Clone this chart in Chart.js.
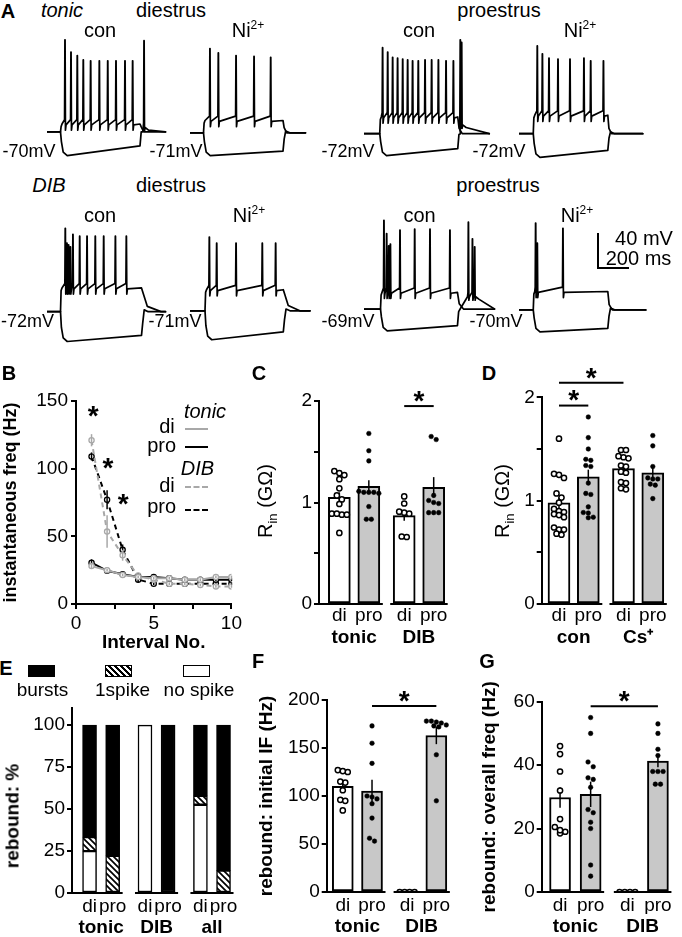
<!DOCTYPE html>
<html>
<head>
<meta charset="utf-8">
<script src="https://cdn.jsdelivr.net/npm/chart.js@4.4.1/dist/chart.umd.min.js"></script>
<style>
  body { margin: 0; width: 682px; height: 937px; position: relative; background: #fff; overflow: hidden;
         font-family: 'Liberation Sans', Arial, Helvetica, sans-serif; color: #000; }
  canvas { position: absolute; }
  .lbl { position: absolute; transform: translate(-50%, -50%); white-space: nowrap; line-height: 1; font-size: 19px; z-index: 2; }
  .rot { transform: translate(-50%, -50%) rotate(-90deg); }
  .b { font-weight: bold; }
  .i { font-style: italic; }
  sup { font-size: 12px; vertical-align: 8px; line-height: 0; }
  sub { font-size: 13px; vertical-align: -5px; line-height: 0; }
  .blk { position: absolute; z-index: 2; }
</style>
</head>
<body>
<script>
// ---------- A: example traces (time in ms, voltage in mV) ----------
const traceBaseline = [-70, -71, -72, -72, -72, -71, -69, -70];
const traceStepOn   = [90, 90, 105, 95, 90, 100, 110, 95];
const traceStepOff  = [620, 620, 625, 592, 630, 622, 623, 592];
const traceEnd      = [790, 770, 835, 825, 790, 800, 870, 845];
const tracePlateau  = [-61, -57, -53, -51, -45, -47, -50, -49];
const traceHyperMin = [-97, -97, -97, -99, -106, -104, -94, -95];
const traceHyperEnd = [-86, -92, -89, -91, -99, -95, -88, -91];
const depolDecay    = [25, 25, 30, 25, 130, 110, 40, 30];
const spikeTimes = [
  [120, 160, 202, 242, 291, 349, 405, 460, 520, 571],
  [133, 189, 307, 427, 538],
  [124, 158, 191, 224, 258, 291, 324, 362, 407, 451, 496, 547, 596],
  [122, 156, 200, 260, 340, 433, 478, 563],
  [122, 133, 144, 156, 173, 218, 267, 322, 378, 456, 529],
  [129, 178, 307, 482, 571],
  [133, 151, 165, 176, 240, 338, 440, 573],
  [111, 122, 293]
];
const spikePeaks = [
  [35, 21, 17, 12, 11, 11, 11, 11, 11, 11],
  [25, 20, 17, 16, 15],
  [26, 21, 15, 14, 13, 12, 11, 11, 12, 12, 12, 11, 11],
  [28, 19, 14, 13, 13, 14, 11, 11],
  [23, 6, 4, 2, 16, 14, 14, 14, 14, 14, 14],
  [13, 6, 6, 6, 6],
  [32, 17, 3, 5, 21, 22, 22, 21],
  [29, 6, 23]
];
const reboundTimes = [[647], [], [642, 651], [], [], [], [696, 723, 738], []];
const reboundPeaks = [[34], [], [35, 32], [], [], [], [30, 11, 2], []];
const reboundHump  = [-65, null, -62, null, null, null, -55, null];

// ---------- B: instantaneous frequency ----------
const bInterval   = [1, 2, 3, 4, 5, 6, 7, 8, 9, 10];
const bTonicDi    = [28, 25, 21.5, 20, 19, 19, 18, 18, 20, 20];
const bTonicPro   = [30.5, 24.5, 22, 20, 20, 19, 18, 18, 18, 18];
const bDibDi      = [121, 53.5, 36, 21, 18, 15, 15, 14, 13, 13];
const bDibPro     = [109, 77, 40, 18, 15, 15, 15, 15, 15, 15];
const bSemTonicDi  = [1.5, 1, 1, 1, 1, 1, 1, 1, 1, 1];
const bSemTonicPro = [2.5, 1.5, 1, 1, 1, 1, 1, 1, 1, 1];
const bSemDibDi    = [4.5, 12, 4, 2, 1, 1, 1, 1, 1, 1];
const bSemDibPro   = [3, 7, 4, 2, 1, 1, 1, 1, 1, 1];

// ---------- C: input resistance (GOhm), tonic / DIB ----------
const cMeans   = [1.05, 1.16, 0.87, 1.15];
const cSem     = [0.05, 0.06, 0.05, 0.10];
const cTonicDi  = [1.31, 1.29, 1.27, 1.23, 1.14, 1.07, 1.03, 0.985, 0.89, 0.88, 0.88, 0.89, 0.70];
const cTonicPro = [1.68, 1.51, 1.41, 1.11, 1.10, 1.10, 1.09, 1.10, 0.96, 0.835, 0.835];
const cDibDi    = [1.06, 0.99, 0.90, 0.89, 0.91, 0.66, 0.665];
const cDibPro   = [1.62, 1.65, 1.07, 1.00, 0.99, 1.02, 0.90, 0.90, 0.90];

// ---------- D: input resistance, con / Cs+ ----------
const dMeans   = [0.98, 1.23, 1.31, 1.27];
const dSem     = [0.05, 0.07, 0.03, 0.05];
const dConDi   = [1.60, 1.26, 1.25, 1.22, 1.07, 1.03, 0.98, 0.92, 0.90, 0.89, 0.87, 0.86, 0.84, 0.74, 0.72, 0.72, 0.68, 0.67];
const dConPro  = [1.81, 1.61, 1.50, 1.40, 1.39, 1.34, 1.33, 1.17, 1.07, 1.06, 0.94, 0.885, 0.88, 0.835, 0.84];
const dCsDi    = [1.49, 1.49, 1.42, 1.41, 1.43, 1.34, 1.33, 1.28, 1.27, 1.18, 1.17, 1.12, 1.11];
const dCsPro   = [1.63, 1.53, 1.33, 1.21, 1.21, 1.22, 1.16, 1.15, 1.02];

// ---------- E: rebound type (%) ----------
const eNoSpike  = [25, 0, 100, 0, 52.6, 0];
const eOneSpike = [8.3, 22.2, 0, 0, 5.3, 13.3];
const eBursts   = [66.7, 77.8, 0, 100, 42.1, 86.7];

// ---------- F: rebound initial IF (Hz) ----------
const fMeans    = [110, 105, 0, 163];
const fSem      = [5, 12, 0, 9];
const fTonicDi  = [125, 127, 126, 114, 115, 106, 96, 95, 85];
const fTonicPro = [173, 155, 134, 99, 100, 97, 92, 77, 56, 53];
const fDibDi    = [0, 0, 0, 0];
const fDibPro   = [177, 178, 176, 178, 173, 174, 172, 143, 95];

// ---------- G: rebound overall freq (Hz) ----------
const gMeans    = [29.8, 30.8, 0, 41.3];
const gSem      = [3.2, 4, 0, 2];
const gTonicDi  = [46, 43.5, 38, 32, 23, 20.5, 19, 18.5, 19.5];
const gTonicPro = [55, 50, 41, 39.5, 36, 35.5, 33, 26, 25, 22, 20, 8.5, 5];
const gDibDi    = [0, 0, 0, 0];
const gDibPro   = [53, 50, 45, 43, 38, 38, 38, 34, 34];

const subLabels = ['di', 'pro', 'di', 'pro'];

// ===================================================================
const FONT = "'Liberation Sans', Arial, Helvetica, sans-serif";
const grey = '#a8a8a8';
const barGrey = '#c8c8c8';
Chart.defaults.font.family = FONT;
Chart.defaults.font.size = 19;
Chart.defaults.color = '#000';
Chart.defaults.animation = false;
Chart.defaults.events = [];
Chart.defaults.plugins.legend.display = false;
Chart.defaults.plugins.tooltip.enabled = false;

function mkCanvas(left, top, w, h) {
  const c = document.createElement('canvas');
  c.width = w; c.height = h;
  c.style.left = left + 'px'; c.style.top = top + 'px';
  c.style.width = w + 'px'; c.style.height = h + 'px';
  document.body.appendChild(c);
  return c;
}

function put(html, cx, cy, size, cls) {
  const d = document.createElement('div');
  d.className = 'lbl ' + (cls || '');
  d.innerHTML = html;
  d.style.left = cx + 'px'; d.style.top = cy + 'px';
  d.style.fontSize = size + 'px';
  document.body.appendChild(d);
}

function box(left, top, w, h, css) {
  const d = document.createElement('div');
  d.className = 'blk';
  d.style.left = left + 'px'; d.style.top = top + 'px';
  d.style.width = w + 'px'; d.style.height = h + 'px';
  Object.assign(d.style, css);
  document.body.appendChild(d);
}

// error bars, group baselines and significance marks
const extras = {
  id: 'extras',
  afterDatasetDraw(chart, args) {
    const o = chart.canvas._extras || {};
    (o.err || []).forEach(e => {
      if (e.ds !== args.index) return;
      const ctx = chart.ctx, y = chart.scales.y;
      const ds = chart.data.datasets[e.ds];
      ctx.save();
      ctx.strokeStyle = e.color || '#000';
      ctx.lineWidth = 1.5;
      args.meta.data.forEach((el, i) => {
        const s = e.sem[i];
        if (!s) return;
        const raw = ds.data[i];
        const v = typeof raw === 'object' ? raw.y : raw;
        ctx.beginPath();
        ctx.moveTo(el.x, y.getPixelForValue(v - s));
        ctx.lineTo(el.x, y.getPixelForValue(v + s));
        ctx.stroke();
      });
      ctx.restore();
    });
  },
  afterDraw(chart) {
    const o = chart.canvas._extras || {};
    const ctx = chart.ctx, x = chart.scales.x, y = chart.scales.y, ca = chart.chartArea;
    ctx.save();
    ctx.strokeStyle = '#000';
    ctx.fillStyle = '#000';
    if (o.groups) {
      const y0 = y.getPixelForValue(0);
      ctx.lineWidth = 2;
      o.groups.forEach((g, k) => {
        const x0 = k === 0 ? ca.left : x.getPixelForValue(g[0]) - o.barW / 2 - 3;
        const x1 = x.getPixelForValue(g[1]) + o.barW / 2 + 3;
        ctx.beginPath(); ctx.moveTo(x0, y0); ctx.lineTo(x1, y0); ctx.stroke();
      });
    }
    (o.sig || []).forEach(s => {
      const yy = y.getPixelForValue(s.y);
      const xa = x.getPixelForValue(s.a), xb = x.getPixelForValue(s.b);
      ctx.lineWidth = 2;
      ctx.beginPath(); ctx.moveTo(xa, yy); ctx.lineTo(xb, yy); ctx.stroke();
      ctx.font = 'bold 28px ' + FONT;
      ctx.textAlign = 'center';
      ctx.textBaseline = 'middle';
      ctx.fillText('*', (xa + xb) / 2, yy - 4);
    });
    ctx.restore();
  }
};

// ---------- A ----------
// each spike gets a tiny flat top so the stroke never has to turn a razor-sharp corner
function addSpike(pts, t, peak, pre, post, rest) {
  pts.push({x: t - 3, y: pre}, {x: t - 0.6, y: peak}, {x: t + 0.6, y: peak}, {x: t + 3, y: post}, {x: t + 7, y: rest});
}
function depolTrace(i) {
  const b = traceBaseline[i], on = traceStepOn[i], off = traceStepOff[i], p = tracePlateau[i];
  const pts = [{x: 0, y: b}, {x: on, y: b}, {x: on + 4, y: p - 3}, {x: on + 10, y: p}];
  spikeTimes[i].forEach((t, k) => addSpike(pts, t, spikePeaks[i][k], p + 5, p - 7, p - 1));
  pts.push({x: off, y: p}, {x: off + depolDecay[i] * 0.3, y: b + 6}, {x: off + depolDecay[i], y: b}, {x: traceEnd[i], y: b});
  return pts;
}
function hyperTrace(i) {
  const b = traceBaseline[i], on = traceStepOn[i], off = traceStepOff[i];
  const mn = traceHyperMin[i], me = traceHyperEnd[i];
  const pts = [{x: 0, y: b}, {x: on, y: b}, {x: on + 6, y: mn + 16}, {x: on + 18, y: mn + 4},
               {x: on + 45, y: mn}, {x: off, y: me}];
  const reb = reboundTimes[i];
  if (reb.length) {
    const h = reboundHump[i];
    pts.push({x: off + 8, y: me + 16}, {x: off + 18, y: b}, {x: reb[0] - 6, y: h});
    reb.forEach((t, k) => addSpike(pts, t, reboundPeaks[i][k], h + 5, h - 4, h));
    pts.push({x: reb[reb.length - 1] + 30, y: h - 3}, {x: traceEnd[i], y: b});
  } else {
    pts.push({x: off + 8, y: me + 14}, {x: off + 18, y: b + 2}, {x: off + 45, y: b}, {x: traceEnd[i], y: b});
  }
  return pts;
}
const traceLeft = [47, 190, 364, 519, 47, 190, 364, 519];
const traceTop  = [31, 31, 31, 31, 209, 209, 209, 209];
traceBaseline.forEach((b, i) => {
  const c = mkCanvas(traceLeft[i], traceTop[i], 135, 136);
  const line = {borderColor: '#000', borderWidth: 1.7, borderDash: [1000, 0], pointRadius: 0, tension: 0,
                borderJoinStyle: 'round', borderCapStyle: 'round'};
  new Chart(c, {
    type: 'line',
    data: {datasets: [Object.assign({data: hyperTrace(i)}, line), Object.assign({data: depolTrace(i)}, line)]},
    options: {
      responsive: false, devicePixelRatio: 1, layout: {padding: 0},
      scales: {x: {type: 'linear', display: false, min: 0, max: 900},
               y: {display: false, min: -110, max: 45}}
    }
  });
});

// ---------- B ----------
function bSeries(vals, color, dash) {
  return {
    data: bInterval.map((x, i) => ({x: x, y: vals[i]})),
    borderColor: color, borderDash: dash, borderWidth: 2, tension: 0,
    pointRadius: 2.6, pointBackgroundColor: '#fff', pointBorderColor: color, pointBorderWidth: 1.3
  };
}
const axisLine = {display: true, color: '#000', width: 2};
const tickGrid = {display: true, drawOnChartArea: false, drawTicks: true, tickLength: 5, color: '#000', lineWidth: 2};

const cB = mkCanvas(0, 380, 245, 274);
cB._extras = {err: [
  {ds: 0, sem: bSemTonicDi, color: grey}, {ds: 1, sem: bSemTonicPro, color: '#000'},
  {ds: 2, sem: bSemDibDi, color: grey}, {ds: 3, sem: bSemDibPro, color: '#000'}
]};
new Chart(cB, {
  type: 'line',
  data: {datasets: [
    bSeries(bTonicDi, grey, []), bSeries(bTonicPro, '#000', []),
    bSeries(bDibDi, grey, [5, 4]), bSeries(bDibPro, '#000', [5, 4])
  ]},
  options: {
    responsive: false, devicePixelRatio: 1,
    layout: {padding: {top: 21, right: 12, left: 0, bottom: 0}},
    scales: {
      x: {type: 'linear', min: 0, max: 10, offset: false, border: axisLine, grid: tickGrid,
          afterBuildTicks: a => { a.ticks = [0, 2.5, 5, 7.5, 10].map(v => ({value: v})); },
          ticks: {padding: 3, autoSkip: false, maxRotation: 0, callback: v => Number.isInteger(v) ? v : ''},
          title: {display: true, text: 'Interval No.', font: {weight: 'bold', size: 19}, padding: 0},
          afterFit: a => { a.height = 50; }},
      y: {min: 0, max: 150, border: axisLine, grid: tickGrid,
          afterBuildTicks: a => { a.ticks = [0, 50, 100, 150].map(v => ({value: v})); },
          ticks: {padding: 3},
          title: {display: true, text: 'instantaneous freq (Hz)', font: {weight: 'bold', size: 18}, padding: 0},
          afterFit: a => { a.width = 76; }}
    }
  },
  plugins: [extras]
});

// ---------- bar panels ----------
function spread(vals, thr, step) {
  const idx = vals.map((v, i) => i).sort((a, b) => vals[b] - vals[a]);
  const off = new Array(vals.length).fill(0);
  let k = 0;
  while (k < idx.length) {
    let j = k;
    while (j + 1 < idx.length && vals[idx[k]] - vals[idx[j + 1]] < thr) j++;
    const n = j - k + 1;
    for (let m = 0; m < n; m++) off[idx[k + m]] = (m - (n - 1) / 2) * step;
    k = j + 1;
  }
  return off;
}

const slots = [1, 2, 3.2, 4.2];
const groupCenters = [1.5, 3.7];

function barPanel(p) {
  const c = mkCanvas(p.rect[0], p.rect[1], p.rect[2], p.rect[3]);
  c._extras = {groups: [[1, 2], [3.2, 4.2]], barW: p.barW, sig: p.sig, err: [{ds: 0, sem: p.sems}]};
  const datasets = [{
    type: 'bar', order: 2,
    data: slots.map((s, i) => ({x: s, y: p.means[i]})),
    backgroundColor: ['#fff', barGrey, '#fff', barGrey],
    borderColor: '#000', borderWidth: 2, borderSkipped: false, barThickness: p.barW
  }];
  p.dots.forEach((vals, g) => {
    const off = spread(vals, p.thr, 0.17);
    const open = g % 2 === 0;
    datasets.push({
      type: 'scatter', order: 1,
      data: vals.map((v, i) => ({x: slots[g] + off[i], y: v})),
      pointRadius: open ? 2.6 : 2.3,
      pointBackgroundColor: open ? '#fff' : '#000',
      pointBorderColor: '#000', pointBorderWidth: open ? 1.5 : 0.5
    });
  });
  new Chart(c, {
    type: 'bar',
    data: {datasets: datasets},
    options: {
      responsive: false, devicePixelRatio: 1,
      layout: {padding: {top: p.padTop, right: p.padRight, left: 0, bottom: 0}},
      scales: {
        x: {type: 'linear', min: p.xmin, max: p.xmax, offset: false, position: 'bottom',
            grid: {display: false, drawTicks: false}, border: {display: false},
            afterBuildTicks: a => { a.ticks = slots.map(v => ({value: v})); },
            ticks: {padding: p.subPad, autoSkip: false, maxRotation: 0, callback: (v, i) => subLabels[i]},
            afterFit: a => { a.height = p.xh; }},
        x2: {type: 'linear', min: p.xmin, max: p.xmax, offset: false, position: 'bottom',
             grid: {display: false, drawTicks: false}, border: {display: false},
             afterBuildTicks: a => { a.ticks = groupCenters.map(v => ({value: v})); },
             ticks: {padding: p.grpPad, autoSkip: false, maxRotation: 0, font: {weight: 'bold'},
                     callback: (v, i) => p.groups[i]},
             afterFit: a => { a.height = p.x2h; }},
        y: {min: p.ymin, max: p.ymax, border: axisLine, grid: tickGrid,
            afterBuildTicks: a => { a.ticks = p.yticks.map(v => ({value: v})); },
            ticks: {padding: 2, callback: p.ylab},
            title: p.title ? {display: true, text: p.title, font: {weight: 'bold', size: 19}, padding: 0} : {display: false},
            afterFit: a => { a.width = p.yw; }}
      }
    },
    plugins: [extras]
  });
}

const halfTicks = v => Number.isInteger(v) ? v : '';
const plain = v => v;

barPanel({rect: [280, 380, 176, 268], padTop: 21, padRight: 2, yw: 39, xh: 21, x2h: 23, subPad: 0, grpPad: 1,
  xmin: 0.31, xmax: 4.77, ymin: 0, ymax: 2, yticks: [0, 0.5, 1, 1.5, 2], ylab: halfTicks,
  means: cMeans, sems: cSem, dots: [cTonicDi, cTonicPro, cDibDi, cDibPro], thr: 0.05, barW: 22,
  groups: ['tonic', 'DIB'], sig: [{a: 3.2, b: 4.2, y: 1.95}]});

barPanel({rect: [505, 355, 170, 293], padTop: 42.3, padRight: 1.2, yw: 36.7, xh: 21, x2h: 23, subPad: 0, grpPad: 1,
  xmin: 0.41, xmax: 4.77, ymin: 0, ymax: 2, yticks: [0, 0.5, 1, 1.5, 2], ylab: halfTicks,
  means: dMeans, sems: dSem, dots: [dConDi, dConPro, dCsDi, dCsPro], thr: 0.05, barW: 22,
  groups: ['con', 'Cs\u207A'], sig: [{a: 1, b: 2, y: 1.92}, {a: 1, b: 3.2, y: 2.14}]});

barPanel({rect: [255, 640, 200, 297], padTop: 60, padRight: 3, yw: 71.7, xh: 22, x2h: 23, subPad: 2.5, grpPad: 1.8,
  xmin: 0.45, xmax: 4.65, ymin: 0, ymax: 200, yticks: [0, 50, 100, 150, 200], ylab: plain,
  means: fMeans, sems: fSem, dots: [fTonicDi, fTonicPro, fDibDi, fDibPro], thr: 5, barW: 21,
  groups: ['tonic', 'DIB'], sig: [{a: 2, b: 4.2, y: 193.8}], title: 'rebound: initial IF (Hz)'});

barPanel({rect: [478, 640, 204, 297], padTop: 61.7, padRight: 10, yw: 63.7, xh: 22, x2h: 23, subPad: 2.5, grpPad: 1.8,
  xmin: 0.4, xmax: 4.66, ymin: 0, ymax: 60, yticks: [0, 20, 40, 60], ylab: plain,
  means: gMeans, sems: gSem, dots: [gTonicDi, gTonicPro, gDibDi, gDibPro], thr: 1.6, barW: 21,
  groups: ['tonic', 'DIB'], sig: [{a: 2, b: 4.2, y: 58.6}], title: 'rebound: overall freq (Hz)'});

// ---------- E ----------
function hatch() {
  const c = document.createElement('canvas');
  c.width = 6; c.height = 6;
  const g = c.getContext('2d');
  g.fillStyle = '#fff'; g.fillRect(0, 0, 6, 6);
  g.strokeStyle = '#000'; g.lineWidth = 1.7;
  g.beginPath();
  g.moveTo(-1, -1); g.lineTo(7, 7);
  g.moveTo(-1, 5); g.lineTo(1, 7);
  g.moveTo(5, -1); g.lineTo(7, 1);
  g.stroke();
  return g.createPattern(c, 'repeat');
}
const eSlots = [1, 2, 3.4, 4.4, 5.8, 6.8];
const eSub = ['di', 'pro', 'di', 'pro', 'di', 'pro'];
const eGroups = ['tonic', 'DIB', 'all'];
const cE = mkCanvas(0, 695, 240, 242);
cE._extras = {groups: [[1, 2], [3.4, 4.4], [5.8, 6.8]], barW: 14};
function eSet(vals, fill) {
  return {data: eSlots.map((s, i) => ({x: s, y: vals[i]})), backgroundColor: fill,
          borderColor: '#000', borderWidth: 1.5, borderSkipped: false, barThickness: 14};
}
new Chart(cE, {
  type: 'bar',
  data: {datasets: [eSet(eNoSpike, '#fff'), eSet(eOneSpike, hatch()), eSet(eBursts, '#000')]},
  options: {
    responsive: false, devicePixelRatio: 1,
    layout: {padding: {top: 8, right: 4, left: 0, bottom: 0}},
    scales: {
      x: {type: 'linear', stacked: true, min: 0.24, max: 7.34, offset: false,
          grid: {display: false, drawTicks: false}, border: {display: false},
          afterBuildTicks: a => { a.ticks = eSlots.map(v => ({value: v})); },
          ticks: {padding: 2, autoSkip: false, maxRotation: 0, callback: (v, i) => eSub[i]},
          afterFit: a => { a.height = 22; }},
      x2: {type: 'linear', min: 0.24, max: 7.34, offset: false, position: 'bottom',
           grid: {display: false, drawTicks: false}, border: {display: false},
           afterBuildTicks: a => { a.ticks = [1.5, 3.9, 6.3].map(v => ({value: v})); },
           ticks: {padding: 1, autoSkip: false, maxRotation: 0, font: {weight: 'bold'}, callback: (v, i) => eGroups[i]},
           afterFit: a => { a.height = 22; }},
      y: {stacked: true, min: 0, max: 110, border: axisLine, grid: tickGrid,
          afterBuildTicks: a => { a.ticks = [0, 25, 50, 75, 100].map(v => ({value: v})); },
          ticks: {padding: 2},
          afterFit: a => { a.width = 72; }}
    }
  },
  plugins: [extras]
});

// ---------- text ----------
// A
put('A', 8, 11, 20, 'b');
put('tonic', 62, 10, 20, 'i');
put('diestrus', 171, 10, 20);
put('proestrus', 499, 10, 20);
put('con', 100, 30, 20); put('Ni<sup>2+</sup>', 248, 30, 20);
put('con', 419, 30, 20); put('Ni<sup>2+</sup>', 580, 30, 20);
put('-70mV', 29, 151, 18); put('-71mV', 176, 151, 18);
put('-72mV', 348, 151, 18); put('-72mV', 499, 151, 18);
put('DIB', 49, 185, 20, 'i');
put('diestrus', 171, 184.5, 20);
put('proestrus', 498, 185, 20);
put('con', 100, 214.5, 20); put('Ni<sup>2+</sup>', 249, 214.5, 20);
put('con', 419.5, 214.5, 20); put('Ni<sup>2+</sup>', 577, 214.5, 20);
put('-72mV', 27.5, 320.5, 18); put('-71mV', 175, 320.5, 18);
put('-69mV', 348, 320.5, 18); put('-70mV', 496, 320.5, 18);
put('40 mV', 644, 238, 20); put('200 ms', 638.5, 258, 20);
box(597, 233, 2, 36, {background: '#000'});
box(597, 267, 32, 2, {background: '#000'});

// B
put('B', 9, 373, 20, 'b');
put('*', 93.3, 416, 28, 'b'); put('*', 108, 468, 28, 'b'); put('*', 123.3, 504, 28, 'b');
put('tonic', 205, 411.4, 20, 'i');
put('di', 167, 426.4, 20); box(185, 428, 23, 0, {borderTop: '2px solid ' + grey});
put('pro', 161.7, 444.8, 20); box(185, 446, 23, 0, {borderTop: '2px solid #000'});
put('DIB', 197.5, 468, 20, 'i');
put('di', 167, 484.8, 20); box(185, 486, 23, 0, {borderTop: '2px dashed ' + grey});
put('pro', 161.7, 506.4, 20); box(185, 509, 23, 0, {borderTop: '2px dashed #000'});

// C, D
put('C', 259, 373, 20, 'b');
put('R<sub>in</sub> (G\u03A9)', 265, 501, 20, 'rot');
put('D', 489, 373, 20, 'b');
put('R<sub>in</sub> (G\u03A9)', 502, 501, 20, 'rot');

// E
put('E', 6, 668, 20, 'b');
box(28, 665, 27, 12, {background: '#000', border: '1.5px solid #000', boxSizing: 'border-box'});
box(105, 665, 27, 12, {background: 'repeating-linear-gradient(45deg, #000 0 1.7px, #fff 1.7px 4.2px)', border: '1.5px solid #000', boxSizing: 'border-box'});
box(183, 665, 27, 12, {background: '#fff', border: '1.5px solid #000', boxSizing: 'border-box'});
put('bursts', 42.5, 689.4, 19); put('1spike', 122.5, 689.4, 19); put('no spike', 199, 689.4, 19);
put('rebound: %', 12, 816, 19, 'b rot');

// F, G
put('F', 258, 660.5, 20, 'b');
put('G', 487, 660.5, 20, 'b');
</script>
</body>
</html>
